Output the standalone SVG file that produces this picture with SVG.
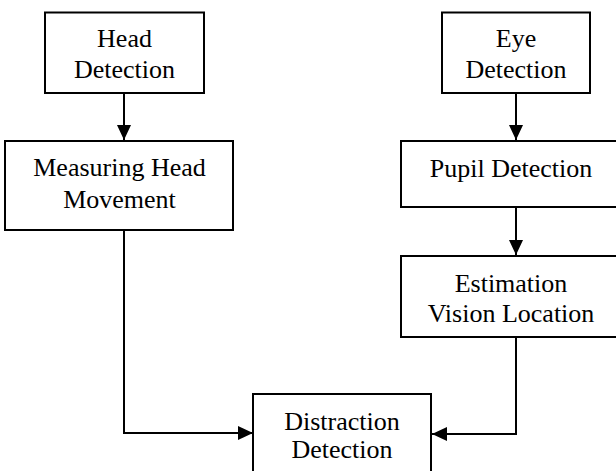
<svg xmlns="http://www.w3.org/2000/svg" width="616" height="471" viewBox="0 0 616 471">
<style>
.box{fill:#fff;stroke:#000;stroke-width:2}
.t{font-family:"Liberation Serif","Times New Roman",serif;font-size:26px;fill:#000;text-anchor:middle}
.c{fill:none;stroke:#000;stroke-width:2}
</style>
<defs>
<marker id="ah" markerUnits="userSpaceOnUse" markerWidth="16" markerHeight="14" refX="15" refY="7" orient="auto">
<path d="M0,0 L15,7 L0,14 Z" fill="#000"/>
</marker>
</defs>
<rect width="616" height="471" fill="#fff"/>
<g id="connectors">
<path class="c" d="M124,93 V140" marker-end="url(#ah)"/>
<path class="c" d="M124,230 V433 H253" marker-end="url(#ah)"/>
<path class="c" d="M516,93 V140" marker-end="url(#ah)"/>
<path class="c" d="M516,207 V255" marker-end="url(#ah)"/>
<path class="c" d="M516,337 V434 H432" marker-end="url(#ah)"/>
</g>
<g id="head-detection">
<rect class="box" x="45" y="12.5" width="159" height="80.5"/>
<text class="t" x="124.5" y="47">Head</text>
<text class="t" x="124.5" y="78">Detection</text>
</g>
<g id="measuring-head-movement">
<rect class="box" x="5" y="141" width="228" height="89"/>
<text class="t" x="119.5" y="176">Measuring Head</text>
<text class="t" x="119.5" y="208">Movement</text>
</g>
<g id="eye-detection">
<rect class="box" x="442" y="12.5" width="148" height="80.5"/>
<text class="t" x="516" y="47">Eye</text>
<text class="t" x="516" y="78">Detection</text>
</g>
<g id="pupil-detection">
<rect class="box" x="401" y="141" width="230" height="66"/>
<text class="t" x="511" y="177">Pupil Detection</text>
</g>
<g id="estimation-vision-location">
<rect class="box" x="401" y="256" width="230" height="81"/>
<text class="t" x="511" y="292">Estimation</text>
<text class="t" x="511" y="322">Vision Location</text>
</g>
<g id="distraction-detection">
<rect class="box" x="253" y="394" width="178" height="85"/>
<text class="t" x="342" y="430">Distraction</text>
<text class="t" x="342" y="458">Detection</text>
</g>
</svg>
